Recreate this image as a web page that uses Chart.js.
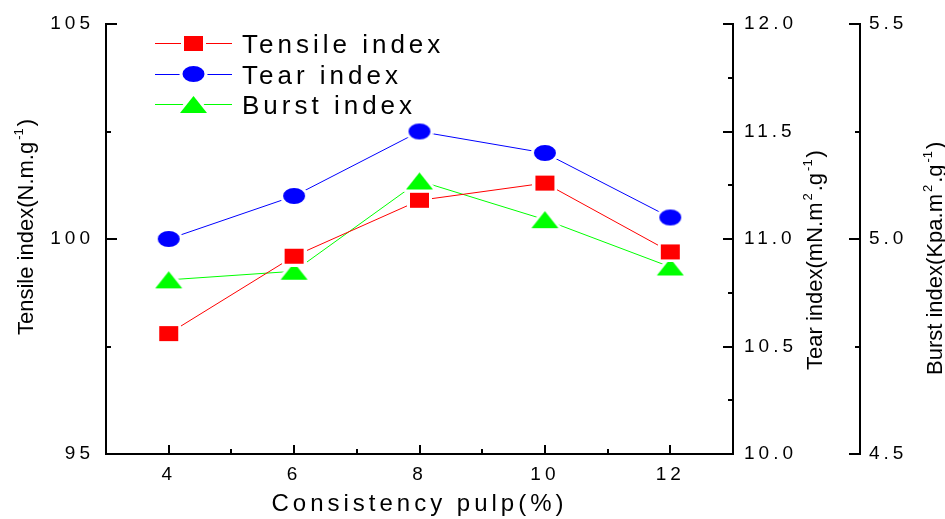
<!DOCTYPE html>
<html>
<head>
<meta charset="utf-8">
<title>Consistency pulp</title>
<script src="https://cdn.jsdelivr.net/npm/chart.js@4.4.0/dist/chart.umd.min.js"></script>
<style>
  html, body { margin: 0; padding: 0; background: #fff; }
  #wrap { width: 945px; height: 519px; }
</style>
</head>
<body>
<div id="wrap"><canvas id="chart" width="945" height="519"></canvas></div>
<script>
// values
const consistency = [4, 6, 8, 10, 12];
const tensileIndex = [97.8, 99.6, 100.9, 101.3, 99.7];
const tearIndex = [11.0, 11.2, 11.5, 11.4, 11.1];
const burstIndex = [4.905, 4.925, 5.135, 5.045, 4.935];

const seriesNames = ['Tensile index', 'Tear index', 'Burst index'];

const xTicks = [4, 6, 8, 10, 12];
const xMinor = [5, 7, 9, 11];
const tensileTicks = [95, 100, 105];
const tensileMinor = [97.5, 102.5];
const tearTicks = [10.0, 10.5, 11.0, 11.5, 12.0];
const tearMinor = [10.25, 10.75, 11.25, 11.75];
const burstTicks = [4.5, 5.0, 5.5];
const burstMinor = [4.75, 5.25];

const FAMILY = '"Liberation Sans", Arial, sans-serif';

// Origin style markers: filled shape with a white halo so the line stops short of it
function makeMarker(shape, color, w, h, lineLen) {
    const halo = 3;
    const cw = lineLen || (w + 2 * halo);
    const ch = h + 2 * halo;
    const c = document.createElement('canvas');
    c.width = cw;
    c.height = ch;
    const g = c.getContext('2d');
    const cx = cw / 2, cy = ch / 2;
    if (lineLen) {
        g.strokeStyle = color;
        g.lineWidth = 1;
        g.beginPath();
        g.moveTo(0, Math.floor(cy) + 0.5);
        g.lineTo(cw, Math.floor(cy) + 0.5);
        g.stroke();
    }
    const path = () => {
        g.beginPath();
        if (shape === 'square') {
            g.rect(cx - w / 2, cy - h / 2, w, h);
        } else if (shape === 'circle') {
            g.ellipse(cx, cy, w / 2, h / 2, 0, 0, Math.PI * 2);
        } else {
            g.moveTo(cx, cy - h / 2);
            g.lineTo(cx + w / 2, cy + h / 2);
            g.lineTo(cx - w / 2, cy + h / 2);
            g.closePath();
        }
    };
    path();
    g.strokeStyle = '#fff';
    g.lineWidth = halo * 2;
    g.lineJoin = 'round';
    g.stroke();
    path();
    g.fillStyle = color;
    g.fill();
    return c;
}

const colors = ['#ff0000', '#0000ff', '#00ff00'];
const shapes = [['square', 19, 15], ['circle', 22, 16], ['triangle', 27, 17]];
const pointImages = shapes.map((s, i) => makeMarker(s[0], colors[i], s[1], s[2]));
const legendImages = shapes.map((s, i) => makeMarker(s[0], colors[i], s[1], s[2], 77));

const toPoints = vals => consistency.map((c, i) => ({ x: c, y: vals[i] }));

const letterSpacing = {
    id: 'letterSpacing',
    beforeUpdate(chart) { chart.ctx.letterSpacing = '4px'; },
    beforeDraw(chart) { chart.ctx.letterSpacing = '4px'; }
};

// inward tick marks, placed with the scales
const tickMarks = {
    id: 'tickMarks',
    afterDraw(chart) {
        const ctx = chart.ctx;
        const s = chart.scales;
        ctx.save();
        ctx.strokeStyle = '#000';
        ctx.lineWidth = 2;
        const mark = (scale, values, len) => {
            values.forEach(v => {
                const p = Math.round(scale.getPixelForValue(v));
                ctx.beginPath();
                if (scale.isHorizontal()) {
                    ctx.moveTo(p, scale.top);
                    ctx.lineTo(p, scale.top - len);
                } else if (scale.position === 'left') {
                    ctx.moveTo(scale.right, p);
                    ctx.lineTo(scale.right + len, p);
                } else {
                    ctx.moveTo(scale.left, p);
                    ctx.lineTo(scale.left - len, p);
                }
                ctx.stroke();
            });
        };
        mark(s.x, xTicks, 9);
        mark(s.x, xMinor, 5);
        mark(s.y, tensileTicks, 11);
        mark(s.y, tensileMinor, 5);
        mark(s.y1, tearTicks, 10);
        mark(s.y1, tearMinor, 5);
        mark(s.y2, burstTicks, 11);
        mark(s.y2, burstMinor, 5);
        ctx.restore();
    }
};

// rotated axis titles with superscripts
function drawRich(ctx, runs, x, y) {
    ctx.save();
    ctx.letterSpacing = '0px';
    ctx.translate(x, y);
    ctx.rotate(-Math.PI / 2);
    ctx.fillStyle = '#000';
    ctx.textAlign = 'left';
    ctx.textBaseline = 'alphabetic';
    let pos = 0;
    runs.forEach(([text, sup]) => {
        if (sup) {
            ctx.font = '13px ' + FAMILY;
            pos += 2;
            ctx.fillText(text, pos, -10);
            pos += ctx.measureText(text).width + 2;
        } else {
            ctx.font = '22px ' + FAMILY;
            ctx.fillText(text, pos, 0);
            pos += ctx.measureText(text).width;
        }
    });
    ctx.restore();
}

const axisTitles = {
    id: 'axisTitles',
    afterDraw(chart) {
        const { ctx, chartArea, scales } = chart;
        drawRich(ctx, [['Tensile index(N.m.g'], ['-1', true], [')']],
            scales.y.left + 33, chartArea.bottom - 119);
        drawRich(ctx, [['Tear index(mN.m'], ['2', true], ['.g'], ['-1', true], [')']],
            scales.y1.left + 89, chartArea.bottom - 84);
        drawRich(ctx, [['Burst index(Kpa.m'], ['2', true], ['.g'], ['-1', true], [')']],
            scales.y2.left + 82, chartArea.bottom - 79);
    }
};

const insideLegend = {
    id: 'insideLegend',
    afterDraw(chart) {
        const { ctx, chartArea } = chart;
        ctx.save();
        ctx.font = '26px ' + FAMILY;
        ctx.fillStyle = '#000';
        ctx.textAlign = 'left';
        ctx.textBaseline = 'alphabetic';
        chart.data.datasets.forEach((ds, i) => {
            const cy = chartArea.top + 19.5 + 30.5 * i;
            const img = legendImages[i];
            ctx.drawImage(img, chartArea.left + 49, Math.round(cy - img.height / 2));
            ctx.fillText(ds.label, chartArea.left + 136, cy + 9.5);
        });
        ctx.restore();
    }
};

function yScale(position, min, max, ticks, width, padding, digits) {
    return {
        type: 'linear',
        position: position,
        min: min,
        max: max,
        afterBuildTicks: s => { s.ticks = ticks.map(v => ({ value: v })); },
        afterFit: s => { s.width = width; },
        grid: { display: false, drawTicks: false },
        border: { display: true, color: '#000', width: 2 },
        ticks: {
            color: '#000',
            padding: padding,
            font: { size: 19, family: FAMILY },
            callback: v => v.toFixed(digits)
        }
    };
}

new Chart(document.getElementById('chart'), {
    type: 'line',
    data: {
        datasets: [{
            label: seriesNames[0],
            data: toPoints(tensileIndex),
            yAxisID: 'y',
            borderColor: colors[0],
            backgroundColor: colors[0],
            borderWidth: 1,
            pointStyle: pointImages[0],
            pointRadius: 10
        }, {
            label: seriesNames[1],
            data: toPoints(tearIndex),
            yAxisID: 'y1',
            borderColor: colors[1],
            backgroundColor: colors[1],
            borderWidth: 1,
            pointStyle: pointImages[1],
            pointRadius: 10
        }, {
            label: seriesNames[2],
            data: toPoints(burstIndex),
            yAxisID: 'y2',
            borderColor: colors[2],
            backgroundColor: colors[2],
            borderWidth: 1,
            pointStyle: pointImages[2],
            pointRadius: 10
        }]
    },
    options: {
        responsive: false,
        animation: false,
        devicePixelRatio: 1,
        layout: { padding: { top: 24, left: 0, right: 0, bottom: 0 } },
        plugins: {
            legend: { display: false },
            tooltip: { enabled: false }
        },
        scales: {
            x: {
                type: 'linear',
                position: 'bottom',
                min: 3,
                max: 13,
                afterBuildTicks: s => { s.ticks = xTicks.map(v => ({ value: v })); },
                afterFit: s => { s.height = 65; },
                grid: { display: false, drawTicks: false },
                border: { display: true, color: '#000', width: 2 },
                ticks: {
                    color: '#000',
                    padding: 9,
                    maxRotation: 0,
                    autoSkip: false,
                    font: { size: 19, family: FAMILY }
                },
                title: {
                    display: true,
                    text: 'Consistency pulp(%)',
                    color: '#000',
                    padding: 0,
                    font: { size: 24, family: FAMILY }
                }
            },
            y: yScale('left', 95, 105, tensileTicks, 106, 12, 0),
            y1: yScale('right', 10, 12, tearTicks, 127, 11, 1),
            y2: yScale('right', 4.5, 5.5, burstTicks, 85, 9, 1)
        }
    },
    plugins: [letterSpacing, tickMarks, axisTitles, insideLegend]
});
</script>
</body>
</html>
